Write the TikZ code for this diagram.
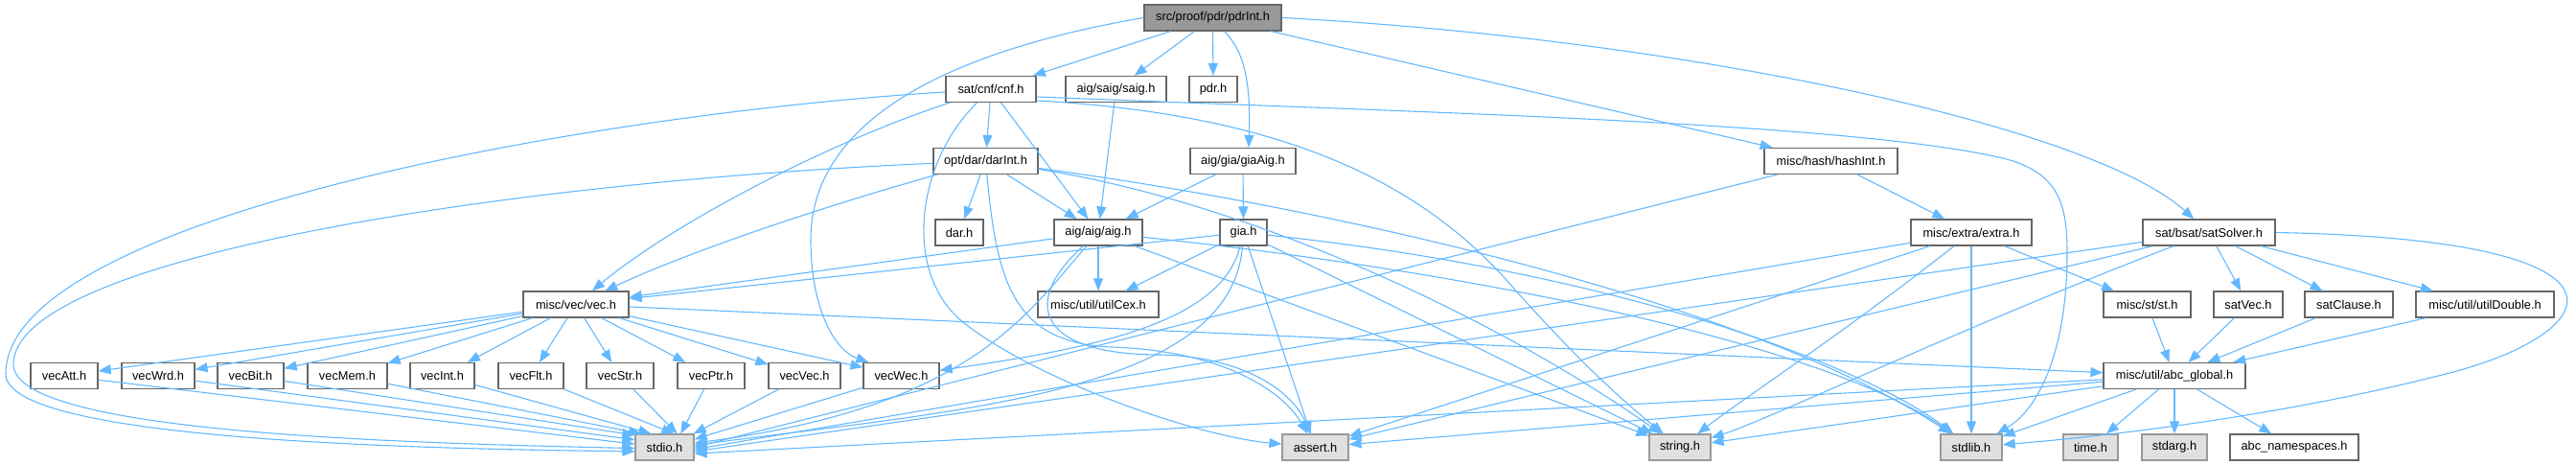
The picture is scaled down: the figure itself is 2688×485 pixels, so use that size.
\documentclass[tikz,border=0pt]{standalone}
\usepackage{fontspec}
\setmainfont{Liberation Sans}
\usetikzlibrary{arrows.meta}
\definecolor{edgeblue}{HTML}{63B8FF}
\definecolor{bordergray}{HTML}{666666}
\definecolor{rootfill}{HTML}{999999}
\definecolor{sysfill}{HTML}{E0E0E0}
\definecolor{sysborder}{HTML}{999999}
\tikzset{
  box/.style={draw=bordergray, fill=white, line width=0.6pt, inner sep=0pt,
    minimum height=13.5pt, font=\fontsize{6.4pt}{7.7pt}\selectfont, text=black},
  rootbox/.style={box, fill=rootfill},
  sysbox/.style={box, draw=sysborder, fill=sysfill},
  edge/.style={draw=edgeblue, line width=0.55pt, -{Triangle[length=6.5pt,width=5pt]}}
}
\begin{document}
\begin{tikzpicture}[x=0.5pt,y=-0.5pt]
\useasboundingbox (0,0) rectangle (2688,485);
% row 1
\node[rootbox, minimum width=71.5pt] (pdrInt) at (1265.5,18.5) {src/proof/pdr/pdrInt.h};
% row 2
\node[box, minimum width=47pt] (cnf) at (1034,93) {sat/cnf/cnf.h};
\node[box, minimum width=52.5pt] (saig) at (1164.5,93) {aig/saig/saig.h};
\node[box, minimum width=25pt] (pdr) at (1266,93) {pdr.h};
% row 3
\node[box, minimum width=54.5pt] (darInt) at (1028.5,168) {opt/dar/darInt.h};
\node[box, minimum width=55pt] (giaAig) at (1297,168) {aig/gia/giaAig.h};
\node[box, minimum width=69.5pt] (hashInt) at (1910.5,168) {misc/hash/hashInt.h};
% row 4
\node[box, minimum width=25pt] (dar) at (1001,242.5) {dar.h};
\node[box, minimum width=46pt] (aig) at (1146,242.5) {aig/aig/aig.h};
\node[box, minimum width=24.5pt] (gia) at (1297.5,242.5) {gia.h};
\node[box, minimum width=63pt] (extra) at (2057,242.5) {misc/extra/extra.h};
\node[box, minimum width=69pt] (satSolver) at (2305,242.5) {sat/bsat/satSolver.h};
% row 5
\node[box, minimum width=55pt] (vec) at (601,317.5) {misc/vec/vec.h};
\node[box, minimum width=63pt] (utilCex) at (1146,317.5) {misc/util/utilCex.h};
\node[box, minimum width=45.5pt] (st) at (2240.5,317.5) {misc/st/st.h};
\node[box, minimum width=36pt] (satVec) at (2346,317.5) {satVec.h};
\node[box, minimum width=46pt] (satClause) at (2451,317.5) {satClause.h};
\node[box, minimum width=72pt] (utilDouble) at (2593,317.5) {misc/util/utilDouble.h};
% row 6
\node[box, minimum width=35pt] (vecAtt) at (67,392) {vecAtt.h};
\node[box, minimum width=38pt] (vecWrd) at (165,392) {vecWrd.h};
\node[box, minimum width=34.5pt] (vecBit) at (261.5,392) {vecBit.h};
\node[box, minimum width=41.5pt] (vecMem) at (362.5,392) {vecMem.h};
\node[box, minimum width=33.5pt] (vecInt) at (461.5,392) {vecInt.h};
\node[box, minimum width=34pt] (vecFlt) at (554,392) {vecFlt.h};
\node[box, minimum width=35pt] (vecStr) at (647,392) {vecStr.h};
\node[box, minimum width=35pt] (vecPtr) at (742,392) {vecPtr.h};
\node[box, minimum width=37.5pt] (vecVec) at (839.5,392) {vecVec.h};
\node[box, minimum width=39.5pt] (vecWec) at (940.5,392) {vecWec.h};
\node[box, minimum width=74pt] (abcglobal) at (2269,392) {misc/util/abc\_global.h};
% row 7
\node[sysbox, minimum width=30.5pt] (stdio) at (693.5,466.5) {stdio.h};
\node[sysbox, minimum width=34.5pt] (assert) at (1372.5,466.5) {assert.h};
\node[sysbox, minimum width=32pt] (string) at (1753,466.5) {string.h};
\node[sysbox, minimum width=32pt] (stdlib) at (2057,466.5) {stdlib.h};
\node[sysbox, minimum width=28.5pt] (time) at (2181.5,466.5) {time.h};
\node[sysbox, minimum width=34pt] (stdarg) at (2269,466.5) {stdarg.h};
\node[box, minimum width=67pt] (abcns) at (2394,466.5) {abc\_namespaces.h};

% ---- edges from pdrInt
\draw[edge] (pdrInt) -- (cnf);
\draw[edge] (pdrInt) -- (saig);
\draw[edge] (pdrInt) -- (pdr);
\draw[edge] ([xshift=6pt]pdrInt.south) .. controls (1300,55) and (1305,90) .. ([xshift=3pt]giaAig.north);
\draw[edge] (pdrInt) -- (hashInt);
\draw[edge] (pdrInt.east) .. controls (1750,40) and (2180,130) .. (satSolver);
\draw[edge] (pdrInt.west) .. controls (980,55) and (846,130) .. (846,250) .. controls (846,320) and (870,365) .. ([xshift=3pt]vecWec.north west);
% ---- cnf
\draw[edge] (cnf) -- (darInt);
\draw[edge] (cnf) -- (aig);
\draw[edge] (cnf) .. controls (600,120) and (6,230) .. (6,390) .. controls (6,458) and (420,468) .. (stdio.188);
\draw[edge] (cnf) .. controls (860,150) and (700,235) .. (vec);
\draw[edge] (cnf) .. controls (955,170) and (940,290) .. (1010,340) .. controls (1090,400) and (1250,455) .. (assert);
\draw[edge] ([yshift=-4pt]cnf.east) .. controls (1500,118) and (1930,128) .. (2090,165) .. controls (2150,180) and (2157,215) .. (2157,265) .. controls (2157,360) and (2130,425) .. ([xshift=-3pt]stdlib.north east);
\draw[edge] ([yshift=-6pt]cnf.east) .. controls (1320,118) and (1470,180) .. (1570,290) .. controls (1650,380) and (1690,415) .. (string);
% ---- darInt
\draw[edge] (darInt) -- (dar);
\draw[edge] (darInt) -- (aig);
\draw[edge] (darInt) .. controls (520,190) and (14,270) .. (14,380) .. controls (14,452) and (420,462) .. (stdio.182);
\draw[edge] (darInt) .. controls (860,215) and (720,262) .. (vec);
\draw[edge] (darInt) .. controls (1040,290) and (1055,358) .. (1160,362) .. controls (1280,366) and (1340,410) .. (assert);
\draw[edge] (darInt) .. controls (1300,210) and (1560,330) .. (string);
\draw[edge] (darInt) .. controls (1450,225) and (1850,330) .. (stdlib);
% ---- saig, giaAig
\draw[edge] (saig) -- (aig);
\draw[edge] (giaAig) -- (aig);
\draw[edge] (giaAig) -- (gia);
% ---- hashInt
\draw[edge] (hashInt) -- (stdio.0);
\draw[edge] (hashInt) -- (extra);
% ---- aig
\draw[edge] (aig) -- (vec);
\draw[edge] (aig) -- (utilCex);
\draw[edge] (aig) -- (string);
\draw[edge] (aig) .. controls (1070,330) and (1010,425) .. (stdio.8);
\draw[edge] (aig) .. controls (1060,320) and (1090,370) .. (1210,370) .. controls (1300,372) and (1350,410) .. (assert);
\draw[edge] (aig) .. controls (1600,290) and (1920,370) .. (stdlib);
% ---- gia
\draw[edge] (gia) -- (vec);
\draw[edge] (gia) -- (utilCex);
\draw[edge] (gia) -- (assert);
\draw[edge] (gia) -- (string);
\draw[edge] (gia) .. controls (1275,335) and (1150,362) .. (vecWec);
\draw[edge] (gia) .. controls (1285,410) and (1000,428) .. (stdio.4);
\draw[edge] (gia) .. controls (1700,285) and (1950,385) .. (stdlib);
% ---- extra
\draw[edge] (extra) -- (stdio.-4);
\draw[edge] (extra) -- (assert);
\draw[edge] (extra) -- (stdlib);
\draw[edge] (extra) -- (st);
\draw[edge] (extra) .. controls (1920,350) and (1820,415) .. (string);
% ---- satSolver
\draw[edge] (satSolver) -- (stdio.-8);
\draw[edge] (satSolver) -- (assert);
\draw[edge] (satSolver) -- (satVec);
\draw[edge] (satSolver) -- (satClause);
\draw[edge] (satSolver) -- (utilDouble);
\draw[edge] (satSolver) .. controls (2050,340) and (1840,440) .. (string);
\draw[edge] (satSolver.east) .. controls (2770,250) and (2720,345) .. (2560,388) .. controls (2360,440) and (2160,458) .. (stdlib);
% ---- to abc_global
\draw[edge] (st) -- (abcglobal);
\draw[edge] (satVec) -- (abcglobal);
\draw[edge] (satClause) -- (abcglobal);
\draw[edge] (utilDouble) -- (abcglobal);
% ---- vec
\draw[edge] (vec) -- (vecAtt);
\draw[edge] (vec) -- (vecWrd);
\draw[edge] (vec) -- (vecBit);
\draw[edge] (vec) -- (vecMem);
\draw[edge] (vec) -- (vecInt);
\draw[edge] (vec) -- (vecFlt);
\draw[edge] (vec) -- (vecStr);
\draw[edge] (vec) -- (vecPtr);
\draw[edge] (vec) -- (vecVec);
\draw[edge] (vec) -- (vecWec);
\draw[edge] (vec) -- (abcglobal);
% ---- vecX to stdio
\draw[edge] (vecAtt) -- (stdio.174);
\draw[edge] (vecWrd) -- (stdio.166);
\draw[edge] (vecBit) -- (stdio.158);
\draw[edge] (vecMem) -- (stdio.150);
\draw[edge] (vecInt) -- (stdio.135);
\draw[edge] (vecFlt) -- (stdio.55);
\draw[edge] (vecStr) -- (stdio.47);
\draw[edge] (vecPtr) -- (stdio.40);
\draw[edge] (vecVec) -- (stdio.25);
\draw[edge] (vecWec) -- (stdio.15);
% ---- abc_global
\draw[edge] (abcglobal) -- (stdio.-12);
\draw[edge] (abcglobal) -- (assert);
\draw[edge] (abcglobal) -- (string);
\draw[edge] (abcglobal) -- (stdlib);
\draw[edge] (abcglobal) -- (time);
\draw[edge] (abcglobal) -- (stdarg);
\draw[edge] (abcglobal) -- (abcns);
\end{tikzpicture}
\end{document}
